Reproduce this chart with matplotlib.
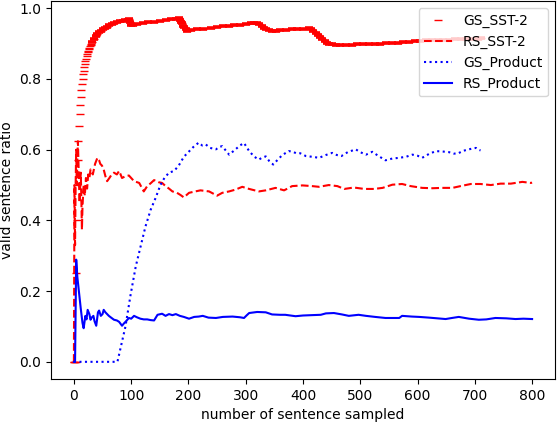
import matplotlib
matplotlib.use('Agg')
from matplotlib import pyplot as plt

# GS_SST-2 (drawn as '_' markers)
gs_sst_x = [0, 1, 2, 3, 4, 5, 6, 7, 8, 9, 10, 11, 12, 13, 14, 15, 16, 17, 18, 19,
            20, 21, 22, 23, 24, 25, 26, 27, 28, 29, 30, 32, 35, 38, 41, 44, 47, 50,
            54, 58, 62, 66, 70, 75, 80, 85, 90, 94, 97, 98, 99, 103, 110, 120, 130,
            140, 150, 160, 170, 178, 183, 185, 187, 189, 191, 193, 195, 197, 205,
            215, 225, 240, 250, 260, 270, 280, 290, 300, 310, 315, 320, 324, 328,
            332, 336, 340, 346, 353, 360, 370, 380, 390, 400, 410, 414, 418, 422,
            426, 430, 434, 438, 442, 446, 450, 458, 465, 475, 485, 495, 505, 515,
            525, 535, 545, 555, 565, 575, 585, 595, 605, 615, 625, 635, 645, 655,
            665, 675, 685, 695, 705, 710]
gs_sst_y = [0.0, 0.0, 0.0, 0.0, 0.25, 0.4, 0.5, 0.571, 0.625, 0.667, 0.7, 0.727,
            0.75, 0.769, 0.786, 0.8, 0.813, 0.824, 0.833, 0.842, 0.85, 0.857, 0.864,
            0.87, 0.875, 0.88, 0.885, 0.889, 0.893, 0.897, 0.9, 0.906, 0.914, 0.921,
            0.927, 0.932, 0.936, 0.94, 0.944, 0.948, 0.952, 0.955, 0.957, 0.96,
            0.963, 0.965, 0.967, 0.968, 0.969, 0.96, 0.952, 0.953, 0.955, 0.957,
            0.96, 0.962, 0.964, 0.967, 0.969, 0.971, 0.972, 0.967, 0.962, 0.957,
            0.951, 0.946, 0.941, 0.937, 0.938, 0.94, 0.942, 0.945, 0.947, 0.949,
            0.951, 0.953, 0.954, 0.956, 0.957, 0.958, 0.959, 0.955, 0.95, 0.945,
            0.941, 0.938, 0.936, 0.937, 0.938, 0.939, 0.94, 0.941, 0.942, 0.943,
            0.94, 0.936, 0.93, 0.924, 0.918, 0.913, 0.908, 0.903, 0.9, 0.898, 0.896,
            0.896, 0.897, 0.897, 0.898, 0.898, 0.899, 0.9, 0.9, 0.901, 0.902, 0.903,
            0.904, 0.905, 0.907, 0.908, 0.909, 0.91, 0.91, 0.911, 0.911, 0.912,
            0.912, 0.913, 0.914, 0.914, 0.915]

# RS_SST-2 (dashed)
rs_sst_x = [0, 1, 2, 3, 4, 5, 6, 7, 8, 9, 10, 11, 12, 13, 14, 15, 17, 19, 21, 23,
            25, 27, 29, 33, 37, 41, 44, 46, 49, 52, 55, 58, 62, 66, 70, 75, 79, 84,
            90, 96, 105, 114, 122, 128, 134, 140, 148, 154, 160, 166, 172, 180, 186,
            192, 201, 212, 221, 236, 250, 259, 271, 282, 294, 306, 323, 335, 352,
            367, 381, 399, 416, 428, 445, 460, 472, 489, 507, 524, 539, 556, 573,
            588, 608, 626, 643, 661, 675, 693, 710, 728, 745, 763, 783, 798, 800]
rs_sst_y = [0.0, 0.5, 0.33, 0.5, 0.6, 0.5, 0.57, 0.624, 0.56, 0.5, 0.45, 0.5, 0.535,
            0.46, 0.374, 0.44, 0.5, 0.47, 0.52, 0.49, 0.53, 0.52, 0.544, 0.53, 0.56,
            0.577, 0.57, 0.56, 0.555, 0.544, 0.525, 0.511, 0.52, 0.53, 0.535, 0.53,
            0.54, 0.52, 0.525, 0.527, 0.511, 0.506, 0.482, 0.497, 0.505, 0.514,
            0.508, 0.506, 0.497, 0.49, 0.482, 0.478, 0.472, 0.465, 0.478, 0.482,
            0.485, 0.482, 0.47, 0.478, 0.482, 0.487, 0.495, 0.489, 0.482, 0.485,
            0.492, 0.485, 0.497, 0.499, 0.497, 0.495, 0.5, 0.497, 0.489, 0.493,
            0.489, 0.489, 0.492, 0.501, 0.503, 0.497, 0.492, 0.491, 0.492, 0.492,
            0.497, 0.503, 0.503, 0.5, 0.504, 0.504, 0.509, 0.506, 0.507]

# GS_Product (dotted)
gs_prod_x = [0, 20, 40, 60, 76, 83, 90, 99, 108, 117, 125, 134, 143, 151, 158, 166,
             175, 183, 192, 201, 210, 218, 224, 230, 238, 248, 254, 259, 265, 271,
             280, 290, 297, 306, 315, 323, 329, 335, 341, 348, 356, 364, 375, 381,
             388, 395, 405, 416, 428, 440, 451, 459, 467, 478, 492, 500, 510, 521,
             532, 544, 556, 568, 580, 591, 600, 608, 620, 632, 643, 655, 663, 670,
             680, 690, 697, 702, 706, 710]
gs_prod_y = [0.0, 0.0, 0.0, 0.0, 0.0, 0.05, 0.1, 0.19, 0.27, 0.33, 0.383, 0.43,
             0.465, 0.5, 0.52, 0.535, 0.54, 0.555, 0.58, 0.595, 0.61, 0.62, 0.612,
             0.615, 0.605, 0.601, 0.608, 0.61, 0.598, 0.586, 0.598, 0.612, 0.619,
             0.596, 0.58, 0.572, 0.578, 0.581, 0.568, 0.558, 0.572, 0.585, 0.596,
             0.595, 0.59, 0.59, 0.582, 0.58, 0.577, 0.585, 0.591, 0.585, 0.582,
             0.593, 0.601, 0.593, 0.586, 0.594, 0.582, 0.57, 0.575, 0.577, 0.58,
             0.586, 0.583, 0.577, 0.588, 0.596, 0.595, 0.593, 0.589, 0.589, 0.597,
             0.601, 0.604, 0.605, 0.6, 0.598]

# RS_Product (solid)
rs_prod_x = [0, 2, 4, 6, 9, 12, 15, 17, 20, 22, 24, 27, 29, 31, 34, 36, 39, 42,
             44, 47, 50, 52, 55, 58, 61, 65, 70, 75, 79, 84, 87, 90, 96, 100, 105,
             110, 116, 122, 128, 134, 140, 146, 154, 160, 166, 172, 178, 185, 192,
             201, 210, 218, 225, 235, 248, 260, 277, 290, 297, 302, 306, 320, 335,
             346, 360, 369, 387, 400, 415, 431, 440, 454, 468, 480, 497, 510, 526,
             544, 568, 573, 590, 603, 620, 649, 660, 672, 690, 707, 720, 736, 755,
             771, 785, 800]
rs_prod_y = [0.0, 0.0, 0.289, 0.24, 0.195, 0.15, 0.11, 0.095, 0.13, 0.12, 0.147,
             0.135, 0.119, 0.125, 0.13, 0.115, 0.102, 0.14, 0.145, 0.13, 0.135, 0.147,
             0.14, 0.135, 0.13, 0.125, 0.119, 0.117, 0.113, 0.102, 0.108, 0.113,
             0.124, 0.122, 0.13, 0.126, 0.122, 0.12, 0.12, 0.118, 0.117, 0.133,
             0.136, 0.13, 0.135, 0.132, 0.135, 0.13, 0.127, 0.122, 0.127, 0.128,
             0.13, 0.125, 0.124, 0.127, 0.128, 0.126, 0.124, 0.132, 0.138, 0.141,
             0.14, 0.134, 0.133, 0.133, 0.129, 0.131, 0.132, 0.133, 0.137, 0.138,
             0.134, 0.13, 0.133, 0.13, 0.127, 0.124, 0.124, 0.13, 0.128, 0.127,
             0.125, 0.121, 0.124, 0.127, 0.122, 0.119, 0.12, 0.124, 0.123, 0.121,
             0.122, 0.121]

fig = plt.figure(figsize=(5.58, 4.22), dpi=100)
ax = fig.add_axes([51 / 558, 1 - 379 / 422, 504 / 558, 378 / 422])

ax.plot(gs_sst_x, gs_sst_y, 'r_', label='GS_SST-2')
# the later part of the band is thicker in the original (noisy ratio)
ax.plot(gs_sst_x[31:], gs_sst_y[31:], 'r_', markeredgewidth=2.6)
ax.plot(rs_sst_x, rs_sst_y, 'r--', label='RS_SST-2')
ax.plot(gs_prod_x, gs_prod_y, 'b:', label='GS_Product')
ax.plot(rs_prod_x, rs_prod_y, 'b-', label='RS_Product')

ax.set_xlabel('number of sentence sampled')
ax.set_ylabel('valid sentence ratio')
handles, labels = ax.get_legend_handles_labels()
ax.legend(handles, labels, loc='upper right')

fig.savefig('out.png', dpi=100)
